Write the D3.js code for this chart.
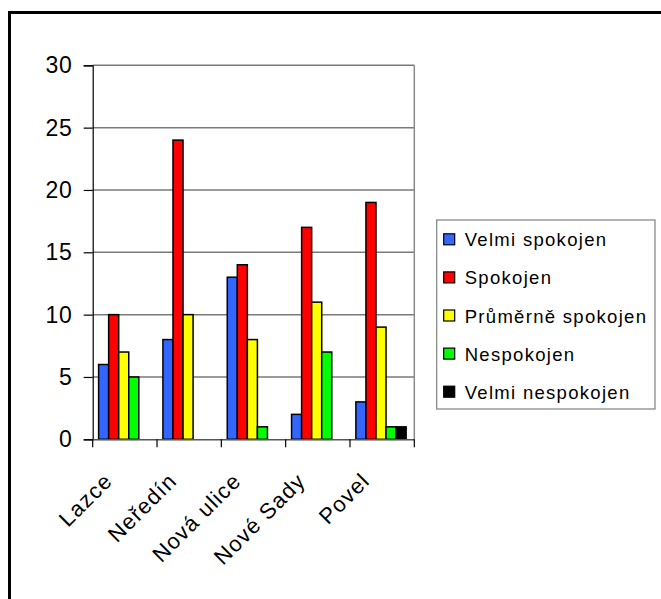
<!DOCTYPE html>
<html>
<head>
<meta charset="utf-8">
<script src="https://cdn.jsdelivr.net/npm/d3@7"></script>
<style>
  html, body { margin: 0; padding: 0; background: #fff; }
  svg { display: block; font-family: "Liberation Sans", Arial, sans-serif; }
</style>
</head>
<body>
<svg id="chart" width="661" height="599"></svg>
<script>
const categories = ["Lazce", "Neředín", "Nová ulice", "Nové Sady", "Povel"];
const seriesNames = ["Velmi spokojen", "Spokojen", "Průměrně spokojen", "Nespokojen", "Velmi nespokojen"];
const seriesColors = ["#3366FF", "#FF0000", "#FFFF00", "#00FF00", "#000000"];
const velmiSpokojen = [6, 8, 13, 2, 3];
const spokojen = [10, 24, 14, 17, 19];
const prumerneSpokojen = [7, 10, 8, 11, 9];
const nespokojen = [5, 0, 1, 7, 1];
const velmiNespokojen = [0, 0, 0, 0, 1];
const yTicks = [0, 5, 10, 15, 20, 25, 30];

const seriesValues = [velmiSpokojen, spokojen, prumerneSpokojen, nespokojen, velmiNespokojen];

const svg = d3.select("#chart");

// outer frame (left and top edges visible)
svg.append("path")
  .attr("d", "M9.5,661 L9.5,12.5 L700,12.5")
  .attr("fill", "none").attr("stroke", "#000").attr("stroke-width", 3);

const plot = { left: 92.7, right: 414.3, top: 65.3, bottom: 439.3 };

const x = d3.scaleBand().domain(categories).range([plot.left, plot.right]).paddingInner(0).paddingOuter(0);
const xs = d3.scaleBand().domain(seriesNames).range([0, x.bandwidth()]).paddingInner(0).paddingOuter(0.7).align(0.42);
const y = d3.scaleLinear().domain([0, 30]).range([plot.bottom, plot.top]);

// gridlines
svg.append("g").selectAll("line").data(yTicks.filter(d => d > 0)).join("line")
  .attr("x1", plot.left).attr("x2", plot.right)
  .attr("y1", d => y(d)).attr("y2", d => y(d))
  .attr("stroke", "#7a7a7a").attr("stroke-width", 1.5);

// right plot border
svg.append("line")
  .attr("x1", plot.right).attr("x2", plot.right)
  .attr("y1", plot.top).attr("y2", plot.bottom)
  .attr("stroke", "#8a8a8a").attr("stroke-width", 1.5);

// bars
const groups = svg.append("g").selectAll("g").data(categories).join("g")
  .attr("transform", d => `translate(${x(d)},0)`);
groups.selectAll("rect")
  .data((c, ci) => seriesNames.map((s, si) => ({ s, si, v: seriesValues[si][ci] })))
  .join("rect")
  .attr("x", d => xs(d.s))
  .attr("width", xs.bandwidth())
  .attr("y", d => y(d.v))
  .attr("height", d => y(0) - y(d.v))
  .attr("fill", d => seriesColors[d.si])
  .attr("stroke", "#000").attr("stroke-width", 1.5);

// y axis
const yAxis = d3.axisLeft(y).tickValues(yTicks).tickSize(9).tickPadding(11);
const gy = svg.append("g").attr("transform", `translate(${plot.left},0)`).call(yAxis);
gy.select(".domain").attr("stroke", "#000").attr("stroke-width", 1.2);
gy.selectAll(".tick line").attr("stroke", "#000").attr("stroke-width", 1.2);
gy.selectAll(".tick text").attr("font-size", 23).attr("fill", "#000")
  .attr("font-family", "'Liberation Sans', Arial, sans-serif").attr("letter-spacing", 0.8);

// x axis
const xAxis = d3.axisBottom(x).tickSize(0).tickFormat("");
const gx = svg.append("g").attr("transform", `translate(0,${plot.bottom})`).call(xAxis);
gx.select(".domain").attr("stroke", "#555").attr("stroke-width", 1.5);
svg.append("g").selectAll("line").data(categories.concat(["__end"])).join("line")
  .attr("x1", (d, i) => plot.left + i * x.bandwidth())
  .attr("x2", (d, i) => plot.left + i * x.bandwidth())
  .attr("y1", plot.bottom).attr("y2", plot.bottom + 8)
  .attr("stroke", "#000").attr("stroke-width", 1.2);

svg.append("g").selectAll("text").data(categories).join("text")
  .attr("transform", d => `translate(${x(d) + x.bandwidth() / 2 - 11},${plot.bottom + 43}) rotate(-45)`)
  .attr("text-anchor", "end")
  .attr("font-size", 22)
  .attr("letter-spacing", 1.2)
  .attr("fill", "#000")
  .text(d => d);

// legend
const legend = { left: 436.7, top: 220, right: 655, bottom: 409 };
svg.append("rect")
  .attr("x", legend.left).attr("y", legend.top)
  .attr("width", legend.right - legend.left).attr("height", legend.bottom - legend.top)
  .attr("fill", "#fff").attr("stroke", "#808080").attr("stroke-width", 1.2);
const ly = d3.scalePoint().domain(seriesNames).range([239.3, 391.7]);
const li = svg.append("g").selectAll("g").data(seriesNames).join("g")
  .attr("transform", d => `translate(${legend.left},${ly(d)})`);
li.append("rect")
  .attr("x", 7).attr("y", -5.5).attr("width", 11).attr("height", 11)
  .attr("fill", (d, i) => seriesColors[i]).attr("stroke", "#000").attr("stroke-width", 1.2);
li.append("text")
  .attr("x", 28).attr("y", 7)
  .attr("font-size", 18.5)
  .attr("letter-spacing", 1.3)
  .attr("fill", "#000")
  .text(d => d);
</script>
</body>
</html>
